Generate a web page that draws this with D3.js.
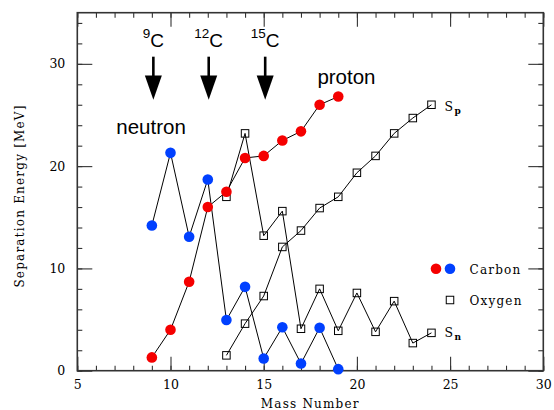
<!DOCTYPE html>
<html>
<head>
<meta charset="utf-8">
<script src="https://cdn.jsdelivr.net/npm/d3@7"></script>
<style>
  body { margin: 0; background: #fff; }
  svg { display: block; }
  .serif { font-family: 'DejaVu Serif', serif; letter-spacing: 1.2px; }
  .sans { font-family: 'Liberation Sans', Arial, sans-serif; }
</style>
</head>
<body>
<div id="vis"></div>
<script>
// mass numbers
var carbonA = [9, 10, 11, 12, 13, 14, 15, 16, 17, 18, 19];
var oxygenA = [13, 14, 15, 16, 17, 18, 19, 20, 21, 22, 23, 24];

// separation energies [MeV]
var carbonSp = [1.3, 4.0, 8.7, 16.0, 17.5, 20.8, 21.0, 22.5, 23.4, 26.0, 26.8];
var carbonSn = [14.2, 21.3, 13.1, 18.7, 4.95, 8.2, 1.2, 4.25, 0.7, 4.2, 0.15];
var oxygenSp = [1.5, 4.6, 7.3, 12.1, 13.7, 15.9, 17.0, 19.35, 21.0, 23.2, 24.7, 26.0];
var oxygenSn = [17.0, 23.2, 13.2, 15.6, 4.1, 8.0, 3.9, 7.6, 3.8, 6.8, 2.7, 3.7];

// arrows marking isotopes
var arrowA = [9.08, 12.05, 15.08];
var arrowMass = ['9', '12', '15'];
var arrowTop = 30.7, arrowHead = 28.85, arrowTip = 26.5;

var xTicks = [5, 10, 15, 20, 25, 30];
var yTicks = [0, 10, 20, 30];

var W = 554, H = 410;
var margin = {left: 77.3, right: 10.7, top: 12.7, bottom: 39.3};

var svg = d3.select('#vis')
    .append('svg')
        .attr('width', W)
        .attr('height', H);

var x = d3.scaleLinear()
    .domain([5, 30])
    .range([margin.left, W - margin.right]);
var y = d3.scaleLinear()
    .domain([0, 35])
    .range([H - margin.bottom, margin.top]);

var x0 = margin.left, x1 = W - margin.right, y0 = H - margin.bottom, y1 = margin.top;

// axes: major + minor ticks on all sides, pointing inward
var xMinor = d3.range(5, 31, 1), yMinor = d3.range(0, 35, 2);

var addAxis = (axis, tr, labels) => {
    var g = svg.append('g')
        .attr('transform', tr)
        .call(axis);
    g.select('.domain').remove();
    g.selectAll('line').attr('stroke', '#333').attr('stroke-width', 1.1);
    if (labels) {
        g.selectAll('text')
            .attr('class', 'serif')
            .style('letter-spacing', '0px')
            .attr('font-size', 12.5)
            .attr('fill', '#000');
    }
    return g;
}

addAxis(d3.axisBottom(x).tickValues(xTicks).tickFormat(d3.format('d')).tickSize(-14).tickPadding(9.5), 'translate(0,' + y0 + ')', true);
addAxis(d3.axisBottom(x).tickValues(xMinor).tickFormat('').tickSize(-5), 'translate(0,' + y0 + ')');
addAxis(d3.axisTop(x).tickValues(xTicks).tickFormat('').tickSize(-14), 'translate(0,' + y1 + ')');
addAxis(d3.axisTop(x).tickValues(xMinor).tickFormat('').tickSize(-5), 'translate(0,' + y1 + ')');
addAxis(d3.axisLeft(y).tickValues(yTicks).tickFormat(d3.format('d')).tickSize(-15).tickPadding(12), 'translate(' + x0 + ',0)', true);
addAxis(d3.axisLeft(y).tickValues(yMinor).tickFormat('').tickSize(-5), 'translate(' + x0 + ',0)');
addAxis(d3.axisRight(y).tickValues(yTicks).tickFormat('').tickSize(-15), 'translate(' + x1 + ',0)');
addAxis(d3.axisRight(y).tickValues(yMinor).tickFormat('').tickSize(-5), 'translate(' + x1 + ',0)');

svg.append('rect')
    .attr('x', x0).attr('y', y1)
    .attr('width', x1 - x0).attr('height', y0 - y1)
    .attr('fill', 'none')
    .attr('stroke', '#333')
    .attr('stroke-width', 1.6);

// axis titles
svg.append('text')
    .attr('class', 'serif')
    .attr('x', (x0 + x1) / 2)
    .attr('y', 407.5)
    .attr('text-anchor', 'middle')
    .attr('font-size', 12)
    .text('Mass Number');

svg.append('text')
    .attr('class', 'serif')
    .attr('transform', 'translate(24,196) rotate(-90)')
    .attr('text-anchor', 'middle')
    .attr('font-size', 12)
    .text('Separation Energy [MeV]');

// lines
var line = d3.line()
    .x(d => x(d[0]))
    .y(d => y(d[1]));

var series = [
    d3.zip(oxygenA, oxygenSp),
    d3.zip(oxygenA, oxygenSn),
    d3.zip(carbonA, carbonSp),
    d3.zip(carbonA, carbonSn)
];

svg.append('g')
    .selectAll('path')
    .data(series)
    .enter()
    .append('path')
        .attr('d', line)
        .attr('fill', 'none')
        .attr('stroke', '#000')
        .attr('stroke-width', 1);

// oxygen squares (open)
var sq = 7.5;
svg.append('g')
    .selectAll('rect')
    .data(series[0].concat(series[1]))
    .enter()
    .append('rect')
        .attr('x', d => x(d[0]) - sq / 2)
        .attr('y', d => y(d[1]) - sq / 2)
        .attr('width', sq)
        .attr('height', sq)
        .attr('fill', 'none')
        .attr('stroke', '#000')
        .attr('stroke-width', 1);

// carbon circles
var red = '#f50000', blue = '#0040ff';
svg.append('g')
    .selectAll('circle')
    .data(series[2].map(d => [d, red]).concat(series[3].map(d => [d, blue])))
    .enter()
    .append('circle')
        .attr('cx', d => x(d[0][0]))
        .attr('cy', d => y(d[0][1]))
        .attr('r', 5.3)
        .style('fill', d => d[1]);

// arrows
var ag = svg.append('g');
arrowA.forEach((a, i) => {
    var ax = x(a);
    ag.append('line')
        .attr('x1', ax).attr('x2', ax)
        .attr('y1', y(arrowTop)).attr('y2', y(arrowHead) + 1)
        .attr('stroke', '#000')
        .attr('stroke-width', 2.6);
    ag.append('path')
        .attr('d', 'M' + (ax - 8.5) + ',' + y(arrowHead) + 'L' + (ax + 8.5) + ',' + y(arrowHead) + 'L' + ax + ',' + y(arrowTip) + 'Z')
        .attr('fill', '#000');
    var t = ag.append('text')
        .attr('class', 'sans')
        .attr('x', ax)
        .attr('y', 47)
        .attr('text-anchor', 'middle')
        .attr('font-size', 19);
    t.append('tspan')
        .attr('font-size', 13.5)
        .attr('dy', -9)
        .text(arrowMass[i]);
    t.append('tspan')
        .attr('dy', 9)
        .text('C');
});

// labels
svg.append('text')
    .attr('class', 'sans')
    .attr('x', x(7.09))
    .attr('y', y(23.1))
    .attr('font-size', 20.5)
    .text('neutron');

svg.append('text')
    .attr('class', 'sans')
    .attr('x', x(17.88))
    .attr('y', y(28.03))
    .attr('font-size', 20.5)
    .text('proton');

// S_p / S_n
var sLabel = (lx, ly, sub) => {
    var t = svg.append('text')
        .attr('class', 'serif')
        .style('letter-spacing', '0px')
        .attr('x', lx)
        .attr('y', ly)
        .attr('font-size', 12.5)
        .text('S');
    t.append('tspan')
        .attr('font-size', 9)
        .attr('font-weight', 'bold')
        .attr('dx', 1.5)
        .attr('dy', 3)
        .text(sub);
}
sLabel(444.5, 110.5, 'p');
sLabel(444.5, 336.5, 'n');

// legend
svg.append('circle').attr('cx', 436).attr('cy', 268.7).attr('r', 5.3).style('fill', red);
svg.append('circle').attr('cx', 450).attr('cy', 268.7).attr('r', 5.3).style('fill', blue);
svg.append('text')
    .attr('class', 'serif')
    .attr('x', 469.5)
    .attr('y', 274)
    .attr('font-size', 12)
    .text('Carbon');

svg.append('rect')
    .attr('x', 450 - sq / 2).attr('y', 300 - sq / 2)
    .attr('width', sq).attr('height', sq)
    .attr('fill', 'none').attr('stroke', '#000').attr('stroke-width', 1);
svg.append('text')
    .attr('class', 'serif')
    .attr('x', 469.5)
    .attr('y', 304.5)
    .attr('font-size', 12)
    .text('Oxygen');
</script>
</body>
</html>
